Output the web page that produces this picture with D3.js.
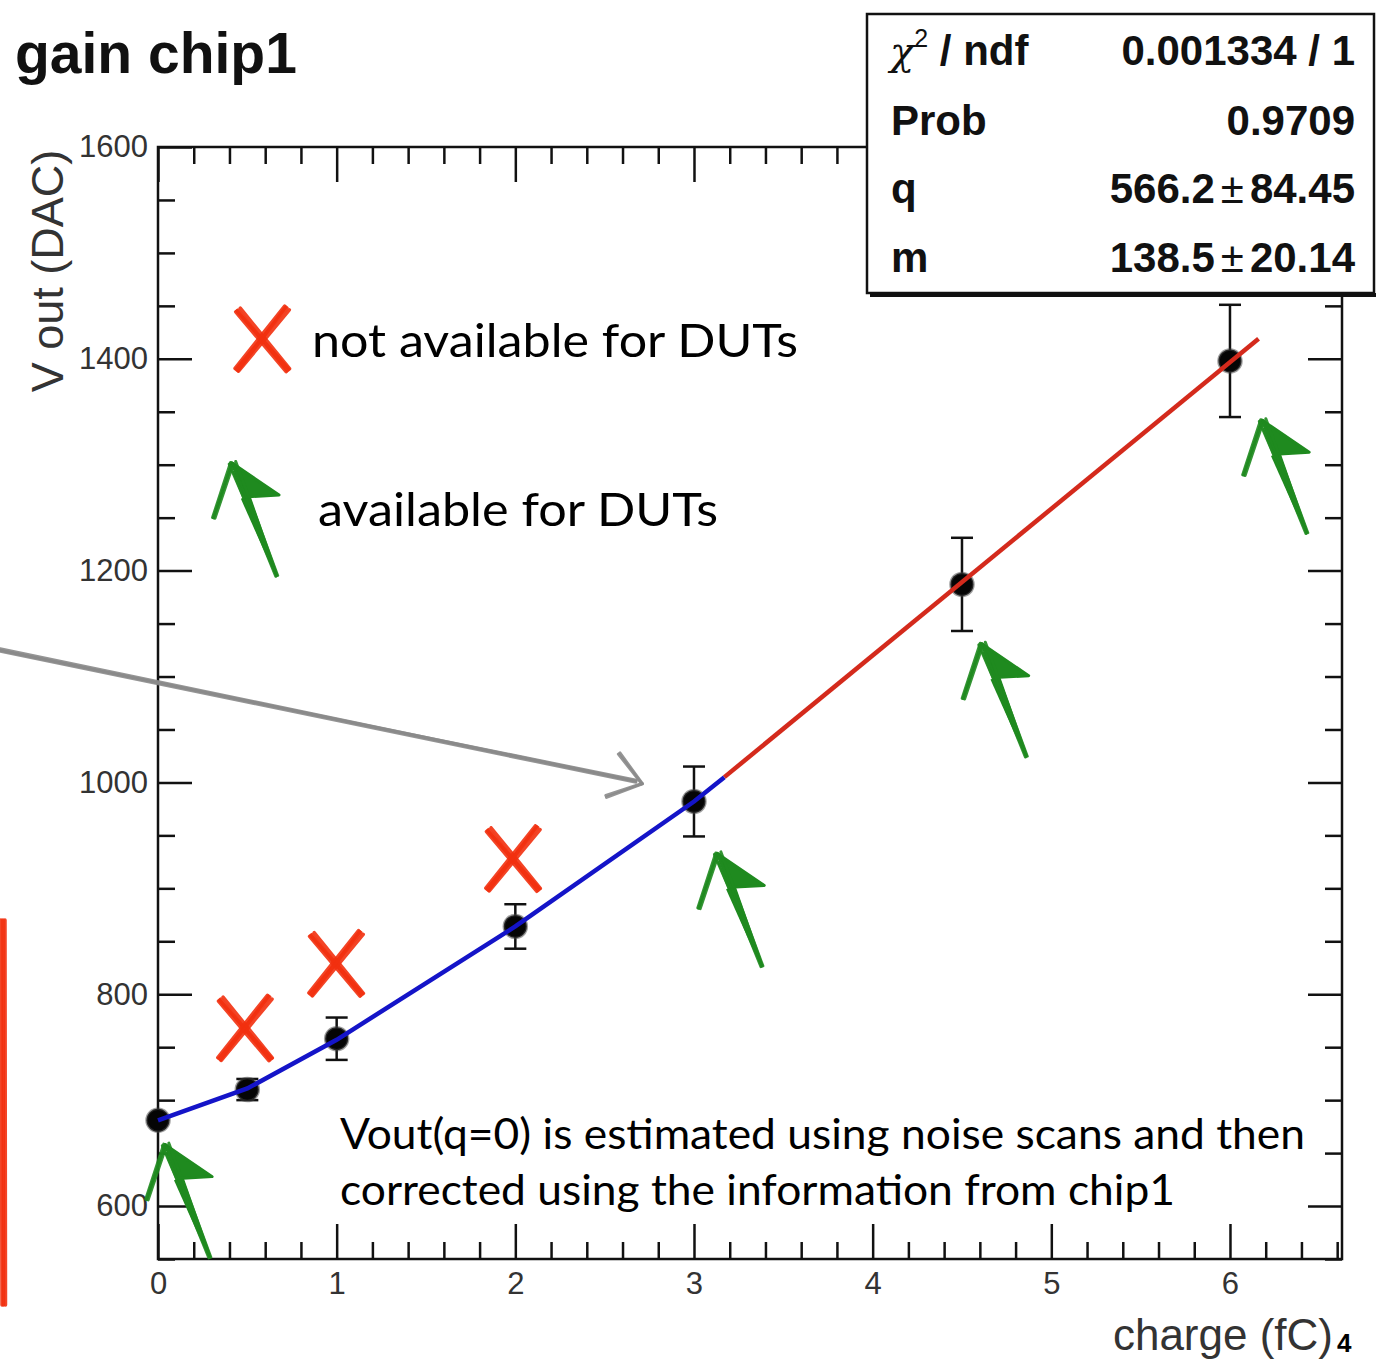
<!DOCTYPE html>
<html>
<head>
<meta charset="utf-8">
<script src="https://cdn.jsdelivr.net/npm/d3@7"></script>
<style>
body { margin: 0; background: #fff; }
text { font-family: "Liberation Sans", Arial, sans-serif; }
.note { font-family: Lato, "Open Sans", sans-serif; fill: #000; }
</style>
</head>
<body>
<svg id="chart" width="1376" height="1361"></svg>
<script>
// measured points (charge in fC, Vout in DAC)
var charge = [0, 0.5, 1, 2, 3, 4.5, 6];
var vout = [681, 710, 758, 864, 982, 1187, 1398];
var voutErr = [6, 10, 20, 21, 33, 44, 53];

// blue interpolation up to where the fit starts
var blueQ = [0, 0.5, 1, 2, 3, 3.17];
var blueV = [681, 711, 757, 864, 982, 1005];

// red linear fit (q + m*x) drawn range
var fitQ = [3.17, 6.16];
var fitV = [1005, 1419];

// fit statistics box
var statLabels = ["ndf", "Prob", "q", "m"];
var statValues = ["0.001334 / 1", "0.9709", "566.2", "138.5"];
var statErrors = [null, null, "84.45", "20.14"];

// hand annotations (data coords)
var crossQ = [0.48, 0.99, 1.98];
var crossV = [768, 829, 928];
var arrowQ = [0.04, 3.13, 4.61, 6.18];  // arrow tips
var arrowV = [658, 933, 1131, 1342];

var xMajor = [0, 1, 2, 3, 4, 5, 6];
var yMajor = [600, 800, 1000, 1200, 1400, 1600];

var svg = d3.select("#chart");

var x = d3.scaleLinear().domain([0, 6.627]).range([158, 1342]);
var y = d3.scaleLinear().domain([550, 1600]).range([1259, 147]);

var RED = "#f2300f", GREEN = "#1f8a1f";

// axes
var xMinor = d3.range(0.2, 6.61, 0.2).filter(function(d){ return Math.abs(d - Math.round(d)) > 0.01; });
var yMinor = d3.range(550, 1601, 50).filter(function(d){ return d % 200 !== 0; });

function styleAxis(g) {
	g.select(".domain").remove();
	g.selectAll(".tick line").attr("stroke", "#111").attr("stroke-width", 2.5);
	g.selectAll(".tick text").attr("fill", "#333").style("font-size", "31px");
}

svg.append("g").attr("transform", "translate(0,1259)")
	.call(d3.axisBottom(x).tickValues(xMajor).tickSize(-35).tickPadding(13).tickFormat(d3.format("d")))
	.call(styleAxis);
svg.append("g").attr("transform", "translate(0,1259)")
	.call(d3.axisBottom(x).tickValues(xMinor).tickSize(-17).tickFormat(""))
	.call(styleAxis);
svg.append("g").attr("transform", "translate(0,147)")
	.call(d3.axisTop(x).tickValues(xMajor.filter(function(d){ return x(d) < 867; })).tickSize(-35).tickFormat(""))
	.call(styleAxis);
svg.append("g").attr("transform", "translate(0,147)")
	.call(d3.axisTop(x).tickValues(xMinor.filter(function(d){ return x(d) < 867; })).tickSize(-17).tickFormat(""))
	.call(styleAxis);

svg.append("g").attr("transform", "translate(158,0)")
	.call(d3.axisLeft(y).tickValues(yMajor).tickSize(-34).tickPadding(10).tickFormat(d3.format("d")))
	.call(styleAxis);
svg.append("g").attr("transform", "translate(158,0)")
	.call(d3.axisLeft(y).tickValues(yMinor).tickSize(-17).tickFormat(""))
	.call(styleAxis);
svg.append("g").attr("transform", "translate(1342,0)")
	.call(d3.axisRight(y).tickValues(yMajor.filter(function(d){ return y(d) > 300; })).tickSize(-34).tickFormat(""))
	.call(styleAxis);
svg.append("g").attr("transform", "translate(1342,0)")
	.call(d3.axisRight(y).tickValues(yMinor.filter(function(d){ return y(d) > 300; })).tickSize(-17).tickFormat(""))
	.call(styleAxis);

// frame
svg.append("rect")
	.attr("x", x(0)).attr("y", y(1600))
	.attr("width", x(6.627) - x(0)).attr("height", y(550) - y(1600))
	.attr("fill", "none").attr("stroke", "#111").attr("stroke-width", 2.5);

// error bars + markers
var pts = charge.map(function(c, i){ return {q: c, v: vout[i], e: voutErr[i]}; });
var eb = svg.append("g").attr("stroke", "#111").attr("stroke-width", 2.5);
pts.forEach(function(d){
	eb.append("line").attr("x1", x(d.q)).attr("x2", x(d.q)).attr("y1", y(d.v - d.e)).attr("y2", y(d.v + d.e));
	if (d.e > 8) {
		eb.append("line").attr("x1", x(d.q) - 11).attr("x2", x(d.q) + 11).attr("y1", y(d.v - d.e)).attr("y2", y(d.v - d.e));
		eb.append("line").attr("x1", x(d.q) - 11).attr("x2", x(d.q) + 11).attr("y1", y(d.v + d.e)).attr("y2", y(d.v + d.e));
	}
});
svg.append("g").selectAll("circle").data(pts).enter().append("circle")
	.attr("cx", function(d){ return x(d.q); })
	.attr("cy", function(d){ return y(d.v); })
	.attr("r", 11.5).attr("fill", "#050505")
	.attr("stroke", "#444").attr("stroke-width", 2.5).attr("stroke-opacity", 0.5);

// curves
var line = d3.line().x(function(d){ return x(d[0]); }).y(function(d){ return y(d[1]); });
svg.append("path").datum(blueQ.map(function(q, i){ return [q, blueV[i]]; }))
	.attr("d", line).attr("fill", "none").attr("stroke", "#1414c8").attr("stroke-width", 4.5);
svg.append("path").datum(fitQ.map(function(q, i){ return [q, fitV[i]]; }))
	.attr("d", line).attr("fill", "none").attr("stroke", "#d42a1c").attr("stroke-width", 4.5);

// hand-drawn helpers
function rough(g, p0, p1, color, w, offs) {
	var dx = p1[0] - p0[0], dy = p1[1] - p0[1], L = Math.hypot(dx, dy);
	var nx = -dy / L, ny = dx / L;
	offs.forEach(function(o){
		g.append("line")
			.attr("x1", p0[0] + nx * o[0]).attr("y1", p0[1] + ny * o[0])
			.attr("x2", p1[0] + nx * o[1]).attr("y2", p1[1] + ny * o[1])
			.attr("stroke", color).attr("stroke-width", w)
			.attr("stroke-linecap", "round").attr("opacity", 0.9);
	});
}

function cross(cx, cy) {
	var g = svg.append("g");
	var offs = [[-3, -2], [0, 1], [3, 2.5], [1.5, -1]];
	rough(g, [cx - 23, cy - 29], [cx + 27, cy + 31], RED, 3.5, offs);
	rough(g, [cx + 26, cy - 31], [cx - 24, cy + 31], RED, 3.5, offs);
}

function greenArrow(tx, ty) {
	var g = svg.append("g");
	var tail = [tx + 45, ty + 113], lw = [tx - 18, ty + 55], rw = [tx + 47, ty + 32];
	var nk = [tx + 0.3 * 45, ty + 0.3 * 113];
	// shaft, tapering
	var dx = 45, dy = 113, L = Math.hypot(dx, dy), nx = -dy / L, ny = dx / L;
	g.append("path")
		.attr("d", d3.line()([
			[nk[0] + nx * 5, nk[1] + ny * 5], [tail[0] + nx * 1.5, tail[1] + ny * 1.5],
			[tail[0] - nx * 1.5, tail[1] - ny * 1.5], [nk[0] - nx * 5, nk[1] - ny * 5]]) + "Z")
		.attr("fill", GREEN);
	rough(g, [tx + 4, ty + 8], tail, GREEN, 2.5, [[-3, -1], [0, 0.5], [3, 1.5]]);
	// head
	g.append("path").attr("d", d3.line()([[tx, ty], rw, nk]) + "Z").attr("fill", GREEN)
		.attr("stroke", GREEN).attr("stroke-width", 3).attr("stroke-linejoin", "round");
	rough(g, [tx, ty], lw, GREEN, 3, [[-1.5, -1], [0, 0.5], [1.5, 1.5]]);
	rough(g, [tx, ty], nk, GREEN, 3, [[-4, -3], [3, 2]]);
}

crossQ.forEach(function(q, i){ cross(x(q), y(crossV[i])); });
arrowQ.forEach(function(q, i){ greenArrow(x(q), y(arrowV[i])); });

// legend marks
cross(261, 339);
greenArrow(232, 463);

// grey arrow pointing at the fit region
(function(){
	var g = svg.append("g");
	var tip = [x(2.71), y(999)];
	rough(g, [0, 650], [tip[0] - 6, tip[1] - 2], "#8a8a8a", 2.5, [[-1.5, -0.5], [0, 0], [1.5, 1], [0.5, -1.5]]);
	rough(g, [tip[0] - 23, tip[1] - 30], tip, "#8a8a8a", 3, [[-1, 0], [1, 0.5]]);
	rough(g, [tip[0] - 36, tip[1] + 13], tip, "#8a8a8a", 3, [[-1, 0], [1, 0.5]]);
})();

// red bar on left edge
rough(svg.append("g"), [3, 920], [4, 1305], RED, 3.5, [[-2, -1.5], [0, 0.5], [2, 2]]);

// stats box
svg.append("line").attr("x1", 870).attr("x2", 1376).attr("y1", 295).attr("y2", 295)
	.attr("stroke", "#111").attr("stroke-width", 4);
svg.append("rect").attr("x", 867).attr("y", 14).attr("width", 507).attr("height", 279)
	.attr("fill", "#fff").attr("stroke", "#111").attr("stroke-width", 2.5);

var rowY = [65, 135, 203, 272];
var chi = svg.append("text").attr("x", 890).attr("y", rowY[0]).style("font-size", "42px").attr("fill", "#111");
chi.append("tspan").text("χ").style("font-family", "'DejaVu Serif', serif").style("font-style", "italic").style("font-size", "40px");
chi.append("tspan").text("2").style("font-size", "25px").attr("dy", -18);
chi.append("tspan").text(" / " + statLabels[0]).style("font-weight", "bold").attr("dy", 18);
statLabels.slice(1).forEach(function(l, i){
	svg.append("text").attr("x", 891).attr("y", rowY[i + 1]).text(l)
		.style("font-size", "42px").style("font-weight", "bold").attr("fill", "#111");
});
statValues.forEach(function(v, i){
	var t = svg.append("text").attr("x", 1355).attr("y", rowY[i]).attr("text-anchor", "end")
		.style("font-size", "42px").attr("fill", "#111");
	t.append("tspan").text(v).style("font-weight", "bold");
	if (statErrors[i]) {
		t.append("tspan").text("±").style("font-weight", "normal").attr("dx", 6);
		t.append("tspan").text(statErrors[i]).style("font-weight", "bold").attr("dx", 6);
	}
});

// titles
svg.append("text").attr("x", 15).attr("y", 73).text("gain chip1")
	.style("font-size", "57px").style("font-weight", "bold").attr("fill", "#111");
svg.append("text").attr("transform", "translate(63,271) rotate(-90)").attr("text-anchor", "middle")
	.text("V out (DAC)").style("font-size", "45px").attr("fill", "#333");
svg.append("text").attr("x", 1333).attr("y", 1350).attr("text-anchor", "end")
	.text("charge (fC)").style("font-size", "44px").attr("fill", "#333");
svg.append("text").attr("x", 1337).attr("y", 1352).text("4")
	.style("font-size", "26px").style("font-weight", "bold").attr("fill", "#000");

// notes
var notes = [
	{t: "not available for DUTs", x: 312, y: 357, w: 486, s: 46},
	{t: "available for DUTs", x: 318, y: 526, w: 400, s: 46},
	{t: "Vout(q=0) is estimated using noise scans and then", x: 340, y: 1149, w: 965, s: 42},
	{t: "corrected using the information from chip1", x: 340, y: 1205, w: 835, s: 42}
];
notes.forEach(function(n){
	svg.append("text").attr("class", "note").attr("x", n.x).attr("y", n.y).text(n.t)
		.style("font-size", n.s + "px")
		.attr("textLength", n.w).attr("lengthAdjust", "spacingAndGlyphs");
});
</script>
</body>
</html>
